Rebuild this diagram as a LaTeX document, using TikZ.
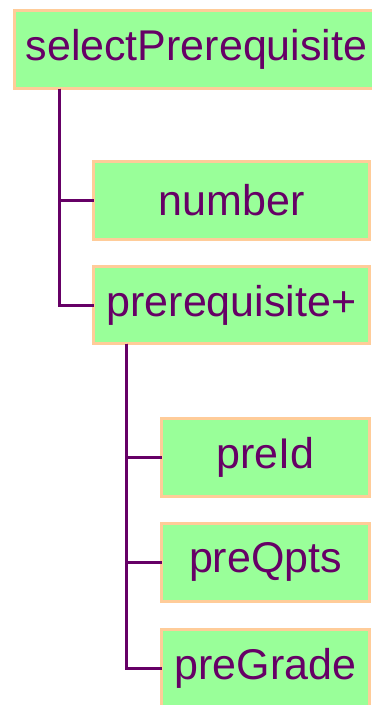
\documentclass[tikz,border=0pt]{standalone}
\usepackage{fontspec}
\setmainfont{Liberation Sans}
\definecolor{boxfill}{HTML}{99FF99}
\definecolor{boxline}{HTML}{FFCC99}
\definecolor{plum}{HTML}{660066}
\tikzset{
  elem/.style={draw=boxline,fill=boxfill,line width=3pt,inner sep=0pt,outer sep=0pt,
    minimum height=78pt,text=plum,font=\fontsize{43}{50}\selectfont},
  wire/.style={draw=plum,line width=3pt}
}
\begin{document}
\begin{tikzpicture}[x=1pt,y=-1pt]
  \useasboundingbox (0,0) rectangle (372,705);
  % element tree, one box per element
  \node[elem,minimum width=364pt] (root) at (196.5,49.5) {selectPrerequisite};
  \node[elem,minimum width=276pt] (number) at (231.5,200.5) {number};
  \node[elem,minimum width=276pt,minimum height=77pt] (prereq) at (231.5,305) {prerequisite+};
  \node[elem,minimum width=208pt] (preid) at (265.5,457.5) {preId};
  \node[elem,minimum width=208pt] (preqpts) at (265.5,562) {preQpts};
  \node[elem,minimum width=208pt] (pregrade) at (265.5,668.5) {preGrade};
  % tree lines
  \coordinate (rootstem) at ([xshift=45pt]root.south west);
  \coordinate (prestem) at ([xshift=33pt]prereq.south west);
  \draw[wire] (rootstem) |- (number.west);
  \draw[wire] (rootstem) |- (prereq.west);
  \draw[wire] (prestem) |- (preid.west);
  \draw[wire] (prestem) |- (preqpts.west);
  \draw[wire] (prestem) |- (pregrade.west);
\end{tikzpicture}
\end{document}
